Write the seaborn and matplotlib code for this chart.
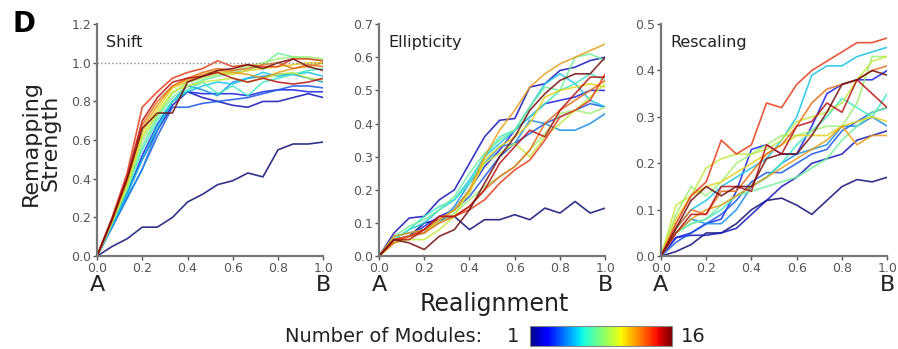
import numpy as np
import pandas as pd
import seaborn as sns
import matplotlib.pyplot as plt
import matplotlib as mpl

# realignment steps (16 samples from A to B)
x = np.linspace(0, 1, 16)
modules = list(range(1, 17))

# ------------------------------------------------------------
# Shift
# ------------------------------------------------------------
shift = [
    [0, 0.05, 0.09, 0.15, 0.15, 0.20, 0.28, 0.32, 0.37, 0.39, 0.43, 0.41, 0.55, 0.58, 0.58, 0.59],
    [0, 0.17, 0.33, 0.50, 0.65, 0.78, 0.85, 0.82, 0.80, 0.78, 0.77, 0.80, 0.80, 0.82, 0.84, 0.82],
    [0, 0.16, 0.32, 0.52, 0.68, 0.80, 0.85, 0.84, 0.84, 0.84, 0.83, 0.85, 0.86, 0.86, 0.85, 0.85],
    [0, 0.15, 0.30, 0.45, 0.62, 0.77, 0.77, 0.79, 0.80, 0.81, 0.82, 0.84, 0.86, 0.88, 0.88, 0.87],
    [0, 0.15, 0.30, 0.45, 0.65, 0.80, 0.88, 0.86, 0.83, 0.90, 0.92, 0.93, 0.94, 0.94, 0.92, 0.90],
    [0, 0.16, 0.32, 0.50, 0.67, 0.80, 0.85, 0.88, 0.90, 0.89, 0.92, 0.95, 0.93, 0.94, 0.95, 0.93],
    [0, 0.17, 0.34, 0.55, 0.70, 0.80, 0.86, 0.90, 0.84, 0.88, 0.83, 0.90, 0.92, 0.94, 0.96, 0.97],
    [0, 0.17, 0.35, 0.57, 0.72, 0.82, 0.88, 0.91, 0.93, 0.95, 0.96, 0.99, 1.05, 1.03, 1.02, 1.01],
    [0, 0.18, 0.36, 0.60, 0.73, 0.84, 0.90, 0.92, 0.94, 0.96, 0.98, 1.00, 1.02, 1.03, 1.03, 1.02],
    [0, 0.18, 0.37, 0.62, 0.74, 0.85, 0.88, 0.90, 0.91, 0.92, 0.90, 0.92, 0.94, 0.95, 0.92, 0.91],
    [0, 0.18, 0.38, 0.64, 0.76, 0.87, 0.90, 0.93, 0.95, 0.94, 0.96, 0.97, 0.98, 0.99, 1.00, 1.00],
    [0, 0.18, 0.39, 0.66, 0.78, 0.88, 0.91, 0.94, 0.96, 0.95, 0.94, 0.92, 0.95, 0.97, 0.98, 1.00],
    [0, 0.19, 0.40, 0.68, 0.80, 0.88, 0.92, 0.95, 0.97, 0.96, 0.97, 0.99, 1.00, 0.97, 0.99, 0.98],
    [0, 0.20, 0.43, 0.77, 0.85, 0.92, 0.95, 0.97, 1.01, 0.98, 0.99, 0.98, 0.98, 1.02, 1.02, 1.01],
    [0, 0.19, 0.41, 0.70, 0.82, 0.90, 0.92, 0.93, 0.95, 0.92, 0.90, 0.92, 0.90, 0.89, 0.90, 0.92],
    [0, 0.19, 0.40, 0.66, 0.74, 0.74, 0.90, 0.93, 0.96, 0.97, 0.99, 0.97, 1.00, 1.02, 0.98, 0.96],
]

# ------------------------------------------------------------
# Ellipticity
# ------------------------------------------------------------
ellipticity = [
    [0, 0.05, 0.06, 0.10, 0.11, 0.12, 0.08, 0.11, 0.11, 0.125, 0.11, 0.145, 0.13, 0.165, 0.13, 0.145],
    [0, 0.07, 0.115, 0.12, 0.17, 0.20, 0.28, 0.36, 0.41, 0.415, 0.51, 0.52, 0.56, 0.57, 0.59, 0.60],
    [0, 0.05, 0.06, 0.09, 0.12, 0.14, 0.20, 0.27, 0.32, 0.38, 0.42, 0.46, 0.47, 0.48, 0.50, 0.50],
    [0, 0.05, 0.06, 0.07, 0.11, 0.14, 0.18, 0.24, 0.30, 0.34, 0.37, 0.40, 0.42, 0.44, 0.46, 0.45],
    [0, 0.06, 0.07, 0.08, 0.10, 0.15, 0.22, 0.28, 0.33, 0.34, 0.41, 0.40, 0.38, 0.38, 0.40, 0.43],
    [0, 0.05, 0.08, 0.10, 0.14, 0.17, 0.23, 0.30, 0.34, 0.38, 0.45, 0.52, 0.55, 0.52, 0.47, 0.45],
    [0, 0.05, 0.08, 0.12, 0.15, 0.17, 0.22, 0.30, 0.36, 0.38, 0.42, 0.46, 0.50, 0.52, 0.55, 0.53],
    [0, 0.06, 0.09, 0.11, 0.14, 0.18, 0.25, 0.31, 0.35, 0.38, 0.45, 0.51, 0.50, 0.60, 0.61, 0.59],
    [0, 0.04, 0.06, 0.08, 0.10, 0.13, 0.17, 0.21, 0.24, 0.27, 0.32, 0.37, 0.43, 0.44, 0.43, 0.45],
    [0, 0.04, 0.05, 0.05, 0.08, 0.12, 0.20, 0.28, 0.31, 0.34, 0.30, 0.36, 0.40, 0.44, 0.48, 0.52],
    [0, 0.05, 0.06, 0.07, 0.11, 0.14, 0.19, 0.29, 0.33, 0.36, 0.40, 0.48, 0.50, 0.51, 0.52, 0.51],
    [0, 0.06, 0.07, 0.08, 0.11, 0.14, 0.20, 0.30, 0.38, 0.44, 0.51, 0.55, 0.58, 0.60, 0.62, 0.64],
    [0, 0.04, 0.06, 0.07, 0.10, 0.12, 0.15, 0.20, 0.24, 0.27, 0.32, 0.40, 0.44, 0.47, 0.50, 0.53],
    [0, 0.05, 0.06, 0.08, 0.12, 0.12, 0.14, 0.17, 0.22, 0.26, 0.29, 0.35, 0.42, 0.44, 0.47, 0.55],
    [0, 0.05, 0.05, 0.08, 0.12, 0.12, 0.15, 0.20, 0.28, 0.33, 0.38, 0.36, 0.44, 0.49, 0.54, 0.54],
    [0, 0.05, 0.04, 0.02, 0.06, 0.08, 0.14, 0.22, 0.30, 0.36, 0.44, 0.49, 0.53, 0.55, 0.55, 0.60],
]

# ------------------------------------------------------------
# Rescaling
# ------------------------------------------------------------
rescaling = [
    [0, 0.01, 0.025, 0.05, 0.05, 0.07, 0.10, 0.12, 0.125, 0.11, 0.09, 0.12, 0.15, 0.165, 0.16, 0.17],
    [0, 0.04, 0.045, 0.045, 0.05, 0.06, 0.09, 0.12, 0.15, 0.17, 0.20, 0.21, 0.22, 0.25, 0.26, 0.27],
    [0, 0.04, 0.05, 0.07, 0.08, 0.14, 0.23, 0.24, 0.22, 0.22, 0.28, 0.35, 0.37, 0.38, 0.38, 0.40],
    [0, 0.03, 0.05, 0.07, 0.09, 0.12, 0.16, 0.18, 0.18, 0.20, 0.22, 0.23, 0.27, 0.29, 0.31, 0.32],
    [0, 0.05, 0.08, 0.07, 0.07, 0.10, 0.15, 0.17, 0.20, 0.22, 0.23, 0.24, 0.28, 0.28, 0.30, 0.28],
    [0, 0.06, 0.10, 0.12, 0.15, 0.17, 0.19, 0.21, 0.25, 0.30, 0.39, 0.41, 0.41, 0.43, 0.44, 0.45],
    [0, 0.05, 0.07, 0.08, 0.10, 0.13, 0.15, 0.17, 0.20, 0.24, 0.27, 0.30, 0.34, 0.32, 0.30, 0.35],
    [0, 0.05, 0.07, 0.08, 0.11, 0.13, 0.14, 0.15, 0.16, 0.17, 0.19, 0.21, 0.25, 0.28, 0.31, 0.32],
    [0, 0.09, 0.15, 0.13, 0.16, 0.20, 0.22, 0.24, 0.26, 0.26, 0.27, 0.28, 0.28, 0.33, 0.43, 0.43],
    [0, 0.11, 0.13, 0.19, 0.21, 0.22, 0.22, 0.23, 0.25, 0.29, 0.30, 0.31, 0.33, 0.38, 0.42, 0.43],
    [0, 0.08, 0.13, 0.15, 0.16, 0.18, 0.20, 0.22, 0.24, 0.26, 0.26, 0.26, 0.28, 0.29, 0.30, 0.29],
    [0, 0.05, 0.08, 0.10, 0.11, 0.13, 0.15, 0.17, 0.19, 0.21, 0.23, 0.25, 0.28, 0.24, 0.26, 0.26],
    [0, 0.06, 0.10, 0.09, 0.14, 0.14, 0.18, 0.22, 0.24, 0.28, 0.33, 0.36, 0.37, 0.38, 0.40, 0.41],
    [0, 0.07, 0.13, 0.16, 0.25, 0.22, 0.24, 0.33, 0.32, 0.37, 0.40, 0.42, 0.44, 0.46, 0.46, 0.47],
    [0, 0.05, 0.09, 0.09, 0.15, 0.15, 0.14, 0.24, 0.22, 0.28, 0.29, 0.33, 0.31, 0.38, 0.35, 0.32],
    [0, 0.06, 0.12, 0.15, 0.13, 0.15, 0.15, 0.21, 0.22, 0.22, 0.26, 0.31, 0.37, 0.38, 0.40, 0.39],
]

panels = ["Shift", "Ellipticity", "Rescaling"]
panel_data = [shift, ellipticity, rescaling]
y_max = [1.2, 0.7, 0.5]
y_step = [0.2, 0.1, 0.1]


def to_long(rows):
    recs = []
    for m, vals in zip(modules, rows):
        for xi, v in zip(x, vals):
            recs.append((m, xi, v))
    return pd.DataFrame(recs, columns=["module", "realignment", "strength"])


sns.set_style("white")
plt.rcParams["font.family"] = ["DejaVu Sans"]

jet = mpl.colormaps["jet"]
# slightly muted jet, one colour per module count
line_colors = sns.color_palette(list(jet(np.linspace(0, 1, 16))), desat=0.8)

fig = plt.figure(figsize=(8.98, 3.49), dpi=100)
lefts = [0.108, 0.422, 0.736]
gray = "#555555"
dark = "#222222"

for i, (name, rows) in enumerate(zip(panels, panel_data)):
    ax = fig.add_axes([lefts[i], 0.266, 0.252, 0.665])
    df = to_long(rows)
    sns.lineplot(data=df, x="realignment", y="strength", hue="module",
                 palette=line_colors, legend=False,
                 linewidth=1.2, alpha=0.85, ax=ax)
    ax.set_xlim(0, 1)
    ax.set_ylim(0, y_max[i])
    ax.set_xticks(np.arange(0, 1.01, 0.2))
    ax.set_yticks(np.arange(0, y_max[i] + 1e-6, y_step[i]))
    ax.xaxis.set_major_formatter(mpl.ticker.FormatStrFormatter("%.1f"))
    ax.yaxis.set_major_formatter(mpl.ticker.FormatStrFormatter("%.1f"))
    ax.tick_params(labelsize=9, colors=gray, length=3, width=1,
                   direction="out", pad=1, left=True, bottom=True)
    for s in ["top", "right"]:
        ax.spines[s].set_visible(False)
    for s in ["left", "bottom"]:
        ax.spines[s].set_color("#777777")
        ax.spines[s].set_linewidth(1.6)
    ax.set_xlabel("")
    ax.set_ylabel("")
    ax.text(0.04, 0.92, name, transform=ax.transAxes, fontsize=11.5,
            color=dark, va="center")
    ax.text(0, -0.125, "A", transform=ax.transAxes, fontsize=16,
            color=dark, ha="center", va="center")
    ax.text(1, -0.125, "B", transform=ax.transAxes, fontsize=16,
            color=dark, ha="center", va="center")
    if name == "Shift":
        ax.axhline(1.0, color="#888888", linestyle=":", linewidth=1)

fig.text(0.045, 0.59, "Remapping\nStrength", fontsize=16, rotation=90,
         ha="center", va="center", color=dark, linespacing=1.0)
fig.text(0.027, 0.93, "D", fontsize=20, fontweight="bold", ha="center",
         va="center", color="black")
fig.text(0.55, 0.128, "Realignment", fontsize=17, ha="center", va="center",
         color=dark)

# colour bar for number of modules
cax = fig.add_axes([0.590, 0.01, 0.158, 0.055])
cb = mpl.colorbar.ColorbarBase(cax, cmap=jet, orientation="horizontal",
                               alpha=0.85)
cb.set_ticks([])
cb.outline.set_edgecolor("#888888")
fig.text(0.537, 0.035, "Number of Modules:", fontsize=14, ha="right",
         va="center", color=dark)
fig.text(0.571, 0.035, "1", fontsize=14, ha="center", va="center",
         color=dark)
fig.text(0.772, 0.035, "16", fontsize=14, ha="center", va="center",
         color=dark)

fig.savefig("out.png", dpi=100)
